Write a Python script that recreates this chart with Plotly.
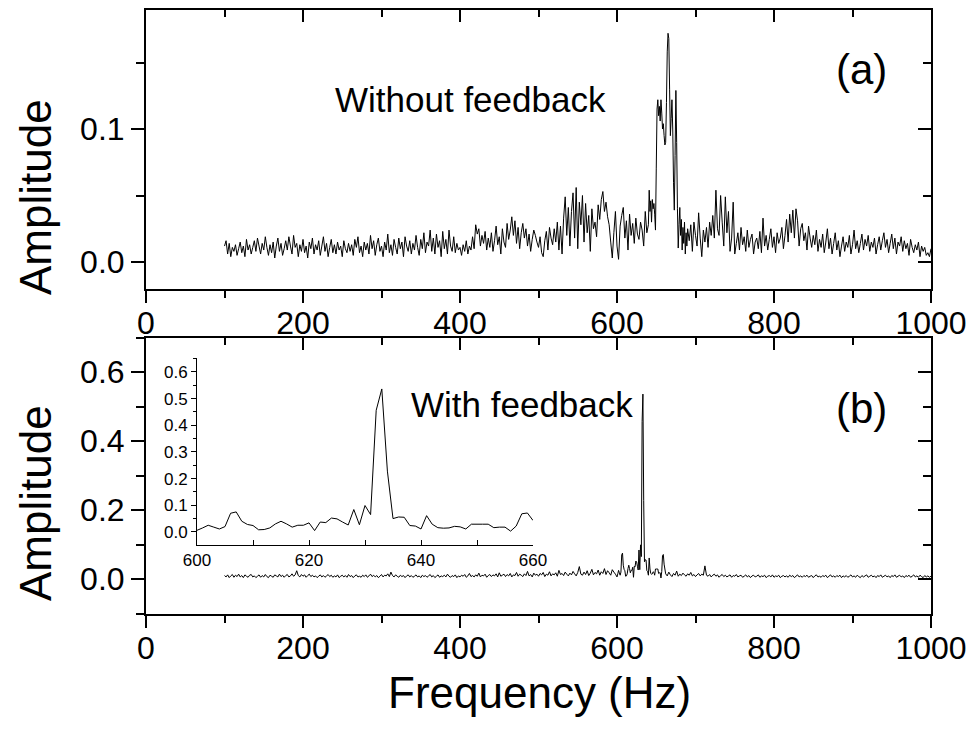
import plotly.graph_objects as go

# ---------------- data ----------------
# (a) without feedback: 100-638 Hz step 2, 640-689 Hz step 1, 690-1000 Hz step 2
amp_a_low = [
    .012,.016,.006,.014,.004,.011,.008,.013,.005,.01,
    .015,.007,.012,.004,.017,.009,.013,.006,.011,.016,
    .008,.018,.012,.006,.014,.009,.019,.011,.005,.013,
    .007,.015,.003,.012,.018,.008,.014,.005,.01,.016,
    .009,.019,.012,.006,.02,.011,.014,.004,.013,.008,
    .017,.007,.012,.003,.015,.01,.018,.006,.013,.009,
    .016,.005,.012,.019,.008,.014,.004,.011,.017,.007,
    .013,.006,.015,.009,.012,.004,.016,.01,.007,.014,
    .008,.013,.005,.017,.011,.019,.007,.012,.004,.015,
    .009,.014,.006,.02,.01,.016,.005,.013,.018,.008,
    .012,.004,.015,.009,.021,.007,.013,.005,.017,.011,
    .006,.018,.01,.015,.004,.019,.012,.008,.016,.006,
    .014,.009,.02,.011,.005,.017,.01,.022,.007,.015,
    .012,.024,.008,.018,.006,.021,.011,.016,.004,.023,
    .01,.017,.006,.024,.012,.008,.019,.007,.014,.009,
    .011,.005,.013,.008,.016,.006,.012,.009,.019,.01,
    .028,.021,.025,.012,.02,.014,.023,.009,.018,.011,
    .022,.008,.016,.027,.013,.019,.006,.025,.015,.011,
    .029,.017,.024,.034,.02,.031,.014,.026,.01,.022,
    .029,.018,.025,.012,.021,.008,.017,.024,.02,.015,
    .011,.019,.007,.004,.016,.023,.009,.026,.018,.013,
    .025,.015,.03,.009,.027,.006,.033,.049,.02,.041,
    .012,.038,.052,.018,.056,.01,.045,.028,.05,.015,
    .044,.022,.035,.008,.04,.025,.03,.019,.043,.032,
    .047,.053,.038,.045,.034,.028,.015,.003,.022,.038,
    .012,.002,.027,.035,.041,.018,.031,.009,.036,.02,
    .029,.014,.033,.021,.017,.03,.024,.012,.038,.022,
]
amp_a_peak = [
    .028,.054,.038,.046,.03,.047,.04,.044,.036,.024,
    .07,.115,.122,.11,.117,.106,.122,.112,.1,.104,
    .095,.088,.09,.12,.158,.172,.168,.13,.095,.108,
    .122,.1,.06,.039,.08,.129,.09,.04,.0105,.028,
    .041,.02,.032,.009,.026,.014,.03,.006,.022,.012,
]
amp_a_high = [
    .025,.016,.028,.008,.03,.02,.012,.037,.018,.004,
    .024,.015,.026,.011,.03,.02,.035,.018,.054,.025,
    .02,.05,.03,.012,.049,.022,.038,.008,.018,.045,
    .006,.014,.022,.009,.026,.013,.019,.008,.024,.011,
    .017,.021,.006,.015,.018,.01,.023,.007,.033,.012,
    .02,.009,.017,.025,.011,.019,.007,.022,.014,.018,
    .026,.01,.02,.032,.015,.036,.022,.039,.018,.04,
    .031,.012,.025,.029,.016,.022,.009,.027,.018,.011,
    .02,.013,.024,.008,.017,.011,.021,.007,.015,.025,
    .01,.018,.006,.014,.022,.009,.016,.004,.012,.019,
    .008,.015,.011,.02,.006,.013,.024,.01,.016,.007,
    .014,.021,.009,.017,.012,.02,.008,.015,.011,.018,
    .006,.013,.019,.009,.016,.022,.011,.017,.007,.014,
    .021,.01,.018,.006,.015,.012,.019,.008,.016,.01,
    .014,.005,.017,.011,.007,.013,.009,.015,.004,.012,
    .008,.011,.005,.007,.004,.01,
]

# (b) with feedback: 100-598 Hz step 2, 600-660 Hz step 1 (inset), 662-1000 Hz step 2
amp_b_low = [
    .01,.006,.012,.004,.009,.013,.005,.011,.007,.014,
    .006,.01,.004,.012,.008,.005,.011,.013,.006,.009,
    .004,.008,.012,.005,.01,.006,.013,.007,.004,.011,
    .008,.005,.012,.009,.006,.014,.007,.011,.005,.01,
    .013,.006,.009,.015,.008,.012,.024,.01,.006,.013,
    .008,.012,.005,.01,.014,.007,.011,.006,.009,.004,
    .008,.012,.006,.01,.005,.009,.013,.007,.011,.005,
    .009,.006,.012,.004,.008,.011,.006,.01,.005,.013,
    .007,.01,.004,.009,.012,.006,.008,.005,.011,.007,
    .012,.005,.009,.014,.007,.011,.006,.01,.004,.008,
    .013,.006,.011,.009,.015,.007,.02,.01,.006,.012,
    .008,.005,.011,.007,.01,.004,.009,.012,.006,.01,
    .005,.008,.012,.006,.009,.004,.011,.007,.01,.005,
    .009,.013,.006,.01,.004,.008,.012,.005,.009,.007,
    .011,.006,.014,.008,.005,.01,.007,.012,.004,.009,
    .006,.011,.008,.013,.005,.009,.016,.007,.01,.006,
    .012,.008,.017,.006,.011,.009,.014,.005,.01,.013,
    .007,.012,.009,.015,.006,.018,.008,.011,.014,.007,
    .013,.009,.016,.006,.012,.01,.019,.008,.014,.011,
    .007,.015,.01,.022,.009,.013,.006,.017,.011,.014,
    .008,.016,.012,.019,.007,.014,.011,.021,.009,.015,
    .012,.018,.008,.025,.013,.016,.01,.02,.014,.009,
    .017,.012,.022,.015,.009,.019,.036,.014,.011,.02,
    .013,.024,.01,.017,.028,.012,.019,.015,.026,.011,
    .021,.016,.03,.013,.024,.018,.011,.027,.02,.014,
]
amp_b_inset = [
    .006,.015,.025,.018,.011,.02,.07,.075,.04,.028,
    .024,.008,.009,.015,.03,.04,.03,.018,.025,.025,
    .034,.005,.037,.035,.052,.049,.037,.026,.084,.027,
    .099,.065,.456,.536,.228,.05,.056,.055,.024,.022,
    .011,.061,.029,.016,.014,.015,.021,.019,.011,.029,
    .029,.029,.029,.016,.018,.018,.003,.022,.068,.071,
    .043,
]
amp_b_high = [
    .015,.009,.02,.012,.007,.016,.011,.023,.008,.014,
    .01,.017,.012,.008,.015,.011,.019,.009,.013,.007,
    .012,.016,.009,.014,.011,.038,.011,.008,.013,.006,
    .011,.014,.008,.012,.005,.01,.013,.007,.011,.006,
    .009,.012,.005,.01,.008,.013,.006,.009,.011,.005,
    .008,.012,.006,.01,.004,.009,.011,.006,.008,.012,
    .005,.009,.007,.011,.004,.008,.01,.006,.012,.005,
    .009,.007,.011,.004,.008,.01,.006,.009,.005,.011,
    .007,.01,.004,.008,.012,.006,.009,.005,.01,.007,
    .011,.005,.008,.01,.004,.009,.012,.006,.008,.005,
    .01,.007,.011,.004,.008,.012,.006,.009,.005,.01,
    .007,.011,.004,.009,.006,.01,.005,.008,.012,.006,
    .009,.005,.011,.007,.004,.01,.006,.009,.012,.005,
    .008,.011,.006,.009,.004,.01,.007,.012,.005,.008,
    .011,.006,.009,.004,.01,.007,.012,.005,.008,.011,
    .006,.009,.004,.01,.007,.011,.005,.008,.012,.006,
    .009,.005,.011,.007,.004,.01,.006,.009,.005,.008,
]

freq_a = list(range(100, 640, 2)) + list(range(640, 690)) + list(range(690, 1001, 2))
amp_a = amp_a_low + amp_a_peak + amp_a_high
freq_inset = list(range(600, 661))
freq_b = list(range(100, 600, 2)) + freq_inset + list(range(662, 1001, 2))
amp_b = amp_b_low + amp_b_inset + amp_b_high
n = min(len(freq_a), len(amp_a)); freq_a, amp_a = freq_a[:n], amp_a[:n]
n = min(len(freq_b), len(amp_b)); freq_b, amp_b = freq_b[:n], amp_b[:n]

x_ticks = [0, 200, 400, 600, 800, 1000]
label_a, label_b = "Without feedback", "With feedback"

# ---------------- figure ----------------
W, H = 974, 738
FONT = "Liberation Sans, Arial, sans-serif"

def px_x(p): return p / W
def px_y(p): return 1 - p / H

fig = go.Figure()
line = dict(color="black", width=1, simplify=False)
fig.add_trace(go.Scatter(x=freq_a, y=amp_a, mode="lines", line=line, xaxis="x", yaxis="y", hoverinfo="skip"))
fig.add_trace(go.Scatter(x=[], y=[], xaxis="x3", yaxis="y3", showlegend=False))
fig.add_trace(go.Scatter(x=freq_b, y=amp_b, mode="lines", line=line, xaxis="x2", yaxis="y2", hoverinfo="skip"))
fig.add_trace(go.Scatter(x=[], y=[], xaxis="x4", yaxis="y4", showlegend=False))
fig.add_trace(go.Scatter(x=freq_inset, y=amp_b_inset, mode="lines", line=line, xaxis="x5", yaxis="y5", hoverinfo="skip"))

xdom = [px_x(146), px_x(931)]
dom_a = [px_y(289), px_y(10)]
dom_b = [px_y(613.5), px_y(337.5)]
xr = [0, 1000]
ra = [-0.0203, 0.1895]
rb = [-0.1, 0.7]

tickfont = dict(family=FONT, size=32, color="black")
common = dict(showline=True, linecolor="black", linewidth=2, showgrid=False, zeroline=False,
              tickcolor="black", tickwidth=2, automargin=False)

def main_x(dom_anchor):
    return dict(domain=xdom, range=xr, anchor=dom_anchor, ticks="outside", ticklen=12,
                tickvals=x_ticks, tickfont=tickfont, ticklabelstandoff=-7,
                minor=dict(dtick=100, tick0=0, ticks="outside", ticklen=7, tickcolor="black", tickwidth=2),
                **common)

def mirror_x(over, anchor):
    return dict(domain=xdom, range=xr, overlaying=over, anchor=anchor, side="top", ticks="inside",
                ticklen=12, tickvals=x_ticks, showticklabels=False,
                minor=dict(dtick=100, tick0=0, ticks="inside", ticklen=7, tickcolor="black", tickwidth=2),
                **common)

def main_y(dom, rng, dt, anchor):
    return dict(domain=dom, range=rng, anchor=anchor, ticks="outside", ticklen=13, dtick=dt, tick0=0,
                tickformat=".1f", tickfont=tickfont,
                minor=dict(dtick=dt / 2, tick0=0, ticks="outside", ticklen=8, tickcolor="black", tickwidth=2),
                **common)

def mirror_y(dom, rng, dt, over, anchor):
    return dict(domain=dom, range=rng, overlaying=over, anchor=anchor, side="right", ticks="inside",
                ticklen=13, dtick=dt, tick0=0, showticklabels=False,
                minor=dict(dtick=dt / 2, tick0=0, ticks="inside", ticklen=8, tickcolor="black", tickwidth=2),
                **common)

inset_font = dict(family=FONT, size=17, color="black")
fig.update_layout(
    width=W, height=H, margin=dict(l=0, r=0, t=0, b=0, pad=0), autosize=False,
    paper_bgcolor="white", plot_bgcolor="rgba(0,0,0,0)", showlegend=False,
    xaxis=main_x("y"),
    yaxis=main_y(dom_a, ra, 0.1, "x"),
    xaxis3=mirror_x("x", "y"),
    yaxis3=mirror_y(dom_a, ra, 0.1, "y", "x"),
    xaxis2=main_x("y2"),
    yaxis2=main_y(dom_b, rb, 0.2, "x2"),
    xaxis4=mirror_x("x2", "y2"),
    yaxis4=mirror_y(dom_b, rb, 0.2, "y2", "x2"),
    xaxis5=dict(domain=[px_x(197), px_x(533)], range=[600, 660], anchor="y5", showline=True,
                linecolor="black", linewidth=1, showgrid=False, zeroline=False, automargin=False,
                ticks="inside", ticklen=5, tickcolor="black", tickwidth=1, dtick=20, tick0=600,
                tickfont=inset_font,
                minor=dict(dtick=10, tick0=600, ticks="inside", ticklen=5, tickcolor="black", tickwidth=1)),
    yaxis5=dict(domain=[px_y(545), px_y(358)], range=[-0.049, 0.652], anchor="x5", showline=True,
                linecolor="black", linewidth=1, showgrid=False, zeroline=False, automargin=False,
                ticks="outside", ticklen=5, tickcolor="black", tickwidth=1, dtick=0.1, tick0=0,
                tickformat=".1f", tickfont=inset_font,
                minor=dict(dtick=0.05, tick0=0, ticks="outside", ticklen=3, tickcolor="black", tickwidth=1)),
)

ann_font = dict(family=FONT, size=35, color="black")
big = dict(family=FONT, size=44, color="black")
fig.add_annotation(text=label_a, xref="paper", yref="paper", x=px_x(333), y=px_y(99),
                   xanchor="left", yanchor="middle", showarrow=False, font=ann_font)
fig.add_annotation(text="(a)", xref="paper", yref="paper", x=px_x(861), y=px_y(70),
                   xanchor="center", yanchor="middle", showarrow=False, font=dict(family=FONT, size=42, color="black"))
fig.add_annotation(text=label_b, xref="paper", yref="paper", x=px_x(409), y=px_y(404),
                   xanchor="left", yanchor="middle", showarrow=False, font=ann_font)
fig.add_annotation(text="(b)", xref="paper", yref="paper", x=px_x(861), y=px_y(408),
                   xanchor="center", yanchor="middle", showarrow=False, font=dict(family=FONT, size=42, color="black"))
fig.add_annotation(text="Amplitude", xref="paper", yref="paper", x=px_x(35), y=px_y(197),
                   xanchor="center", yanchor="middle", textangle=-90, showarrow=False, font=big)
fig.add_annotation(text="Amplitude", xref="paper", yref="paper", x=px_x(35), y=px_y(503),
                   xanchor="center", yanchor="middle", textangle=-90, showarrow=False, font=big)
fig.add_annotation(text="Frequency (Hz)", xref="paper", yref="paper", x=px_x(539), y=px_y(692),
                   xanchor="center", yanchor="middle", showarrow=False, font=big)

fig.write_html("out.html")
